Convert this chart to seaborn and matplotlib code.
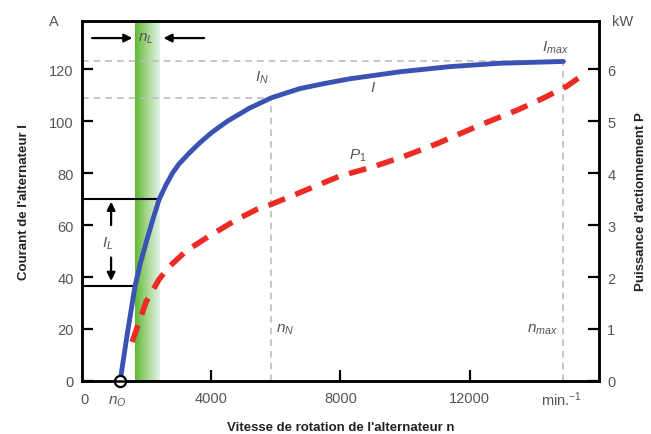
import numpy as np
import matplotlib
matplotlib.use("Agg")
import matplotlib.pyplot as plt
import seaborn as sns
import pandas as pd
from matplotlib.colors import LinearSegmentedColormap

# ---- data ----
speed_I = [1180, 1400, 1640, 1800, 2000, 2200, 2390, 2600, 2800, 3000, 3300, 3630, 4000, 4500,
           5180, 5860, 6730, 7500, 8280, 9830, 11380, 12930, 14900]
current_I = [0, 18, 36.5, 45, 54, 62.5, 70, 75.5, 80, 83.5, 87.5, 91.5, 95.5, 100,
             105, 109, 112.5, 114.5, 116.3, 119, 121, 122.3, 123]

speed_P = [1550, 1980, 2390, 2700, 3220, 3940, 4770, 5400, 5860, 7970, 9000, 10000, 11000, 12300, 13500, 14300, 15000, 15620]
power_P = [0.75, 1.52, 1.96, 2.2, 2.5, 2.79, 3.1, 3.3, 3.4, 3.94, 4.12, 4.33, 4.57, 4.92, 5.22, 5.45, 5.67, 5.94]

x_ticks = [4000, 8000, 12000]
y_ticks_A = [0, 20, 40, 60, 80, 100, 120]
y_ticks_kW = [0, 1, 2, 3, 4, 5, 6]

n0 = 1180
nN, IN = 5860, 109
nmax, Imax = 14900, 123
band = (1640, 2390)          # n_L range
IL_low, IL_high = 36.5, 70

sns.set_theme(style="white")
plt.rcParams['font.family'] = ['Liberation Sans', 'DejaVu Sans']
plt.rcParams['mathtext.fontset'] = 'custom'
plt.rcParams['mathtext.it'] = 'Liberation Sans:italic'
plt.rcParams['mathtext.rm'] = 'Liberation Sans'

fig = plt.figure(figsize=(6.51, 4.35), dpi=100)
ax = fig.add_axes([0.126, 0.122, 0.794, 0.827])
ax2 = ax.twinx()

XMAX, YMAX = 16000, 138.5

grey = '#555555'
dgrey = '#bdbdbd'

# green band gradient
grad = np.linspace(0, 1, 256).reshape(1, -1)
cmap = LinearSegmentedColormap.from_list('g', ['#5db833', '#a9d88f', '#e3f1ea'])
ax.imshow(grad, extent=[band[0], band[1], 0, YMAX], aspect='auto', cmap=cmap, zorder=0)
ax.set_xlim(0, XMAX)
ax.set_ylim(0, YMAX)
ax2.set_ylim(0, YMAX / 20)

# grey dashed guide lines
dash = dict(color=dgrey, lw=1.2, ls=(0, (4, 3)), zorder=1)
ax.plot([0, nmax], [Imax, Imax], **dash)
ax.plot([0, nN], [IN, IN], **dash)
ax.plot([nN, nN], [0, IN], **dash)
ax.plot([nmax, nmax], [0, Imax], **dash)

# I_L black lines
ax.plot([0, band[0]], [IL_low, IL_low], color='black', lw=1.5, zorder=2)
ax.plot([0, band[1]], [IL_high, IL_high], color='black', lw=1.5, zorder=2)

# curves
dfI = pd.DataFrame({'n': speed_I, 'I': current_I})
dfP = pd.DataFrame({'n': speed_P, 'P': power_P})
sns.lineplot(data=dfI, x='n', y='I', ax=ax, color='#3a52b4', lw=3.5, zorder=4, sort=False)
sns.lineplot(data=dfP, x='n', y='P', ax=ax2, color='#ee2a24', lw=4, zorder=4, sort=False)
ax.lines[-1].set_solid_joinstyle('round')
ax2.lines[0].set_dashes([3.2, 2])
ax2.lines[0].set_dash_capstyle('butt')

ax.plot([n0], [0], marker='o', ms=8, mfc='white', mec='black', mew=1.6, clip_on=False, zorder=6)

# arrows
ap = dict(arrowstyle='-|>', color='black', lw=1.6, mutation_scale=12, shrinkA=0, shrinkB=0)
ax.annotate('', xy=(900, 69), xytext=(900, 60), arrowprops=ap)
ax.annotate('', xy=(900, 38.5), xytext=(900, 47.5), arrowprops=ap)
ax.annotate('', xy=(1560, 132), xytext=(310, 132), arrowprops=ap)
ax.annotate('', xy=(2520, 132), xytext=(3780, 132), arrowprops=ap)

# annotations
ax.text(1980, 132, r'$n_{L}$', ha='center', va='center', color=grey, fontsize=11)
ax.text(780, 53, r'$I_{L}$', ha='center', va='center', color=grey, fontsize=11)
ax.text(5580, 117, r'$I_{N}$', ha='center', va='center', color=grey, fontsize=11)
ax.text(9020, 113, r'$I$', ha='center', va='center', color=grey, fontsize=11)
ax.text(14650, 128.5, r'$I_{max}$', ha='center', va='center', color=grey, fontsize=11)
ax.text(8540, 87, r'$P_{1}$', ha='center', va='center', color=grey, fontsize=11)
ax.text(6300, 20, r'$n_{N}$', ha='center', va='center', color=grey, fontsize=11)
ax.text(14250, 20, r'$n_{max}$', ha='center', va='center', color=grey, fontsize=11)

# ticks
ax.set_xticks(x_ticks)
ax.set_xticklabels([str(v) for v in x_ticks])
ax.set_yticks(y_ticks_A)
ax.set_yticklabels([str(v) for v in y_ticks_A])
ax2.set_yticks(y_ticks_kW)
ax2.set_yticklabels([str(v) for v in y_ticks_kW])
for a in (ax, ax2):
    a.tick_params(direction='in', length=8, width=1.6, color='black', labelcolor=grey, labelsize=10.5, pad=6)
    for s in a.spines.values():
        s.set_color('black')
        s.set_linewidth(1.8)
ax.tick_params(axis='x', pad=7, bottom=True)
ax.tick_params(axis='y', left=True, right=False)
ax2.tick_params(axis='y', right=True, left=False)

trans = ax.get_xaxis_transform()
ax.text(80, -0.05, '0', transform=trans, ha='center', va='center', color=grey, fontsize=10.5)
ax.text(n0 - 100, -0.055, r'$n_{O}$', transform=trans, ha='center', va='center', color=grey, fontsize=11)
ax.text(14850, -0.05, r'min.$^{-1}$', transform=trans, ha='center', va='center', color=grey, fontsize=10.5)

ax.text(-0.055, 1.0, 'A', transform=ax.transAxes, ha='center', va='center', color=grey, fontsize=10.5)
ax.text(1.045, 1.0, 'kW', transform=ax.transAxes, ha='center', va='center', color=grey, fontsize=10.5)

ax.set_xlabel("Vitesse de rotation de l'alternateur n", fontsize=9.5, fontweight='bold', labelpad=12, color='#222222')
ax.set_ylabel("Courant de l'alternateur I", fontsize=9.5, fontweight='bold', labelpad=14, color='#222222')
ax2.set_ylabel("Puissance d'actionnement P", fontsize=9.5, fontweight='bold', labelpad=14, color='#222222')

fig.savefig('out.png', dpi=100)
